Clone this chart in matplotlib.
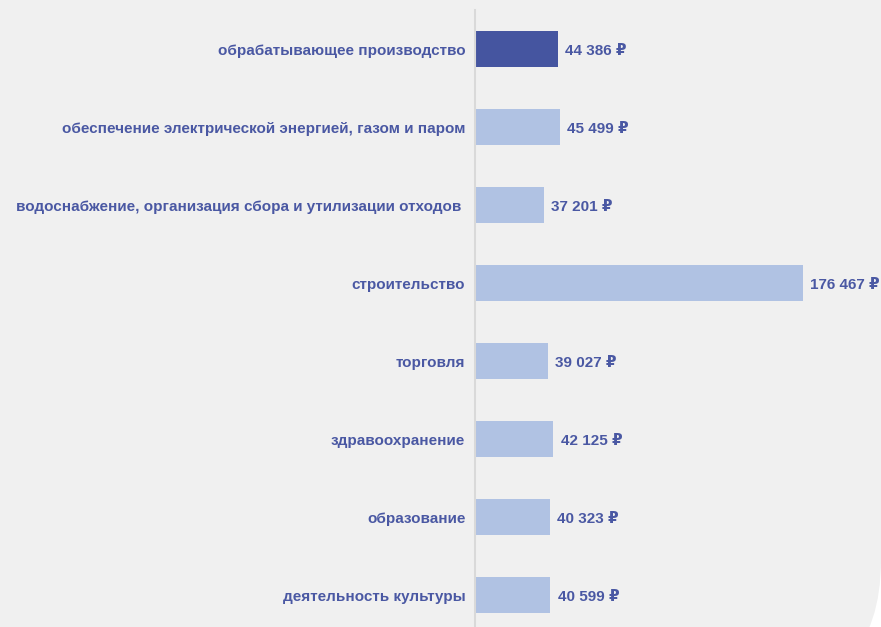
import matplotlib.pyplot as plt
from matplotlib.patches import FancyBboxPatch

categories = [
    "обрабатывающее производство",
    "обеспечение электрической энергией, газом и паром",
    "водоснабжение, организация сбора и утилизации отходов ",
    "строительство",
    "торговля",
    "здравоохранение",
    "образование",
    "деятельность культуры",
]
values = [44386, 45499, 37201, 176467, 39027, 42125, 40323, 40599]
labels = ["44 386 ₽", "45 499 ₽", "37 201 ₽", "176 467 ₽",
          "39 027 ₽", "42 125 ₽", "40 323 ₽", "40 599 ₽"]
colors = ["#4555a0"] + ["#b0c2e3"] * 7

text_color = "#4a58a3"
bg = "#f0f0f0"

plt.rcParams['font.family'] = ['Liberation Sans', 'DejaVu Sans']

W, H = 881, 627
fig = plt.figure(figsize=(W / 100, H / 100), dpi=100)
fig.patch.set_facecolor("white")
# grey card with a large rounded corner at bottom right
r = 134
card = FancyBboxPatch((-200, -67), W + 200, H + 267,
                      boxstyle="round,pad=0,rounding_size=%d" % r,
                      transform=None, facecolor=bg, edgecolor="none", zorder=-10)
fig.patches.append(card)

ax = fig.add_axes([475 / W, 0, 406 / W, 617 / H])
ax.set_facecolor("none")
y = list(range(len(categories)))
ax.barh(y, values, height=0.46, color=colors)
ax.set_xlim(0, 218400)
ax.set_ylim(7.41, -0.5)

for yi, v, lab in zip(y, values, labels):
    ax.text(v + 3900, yi, lab, va="center_baseline", ha="left", color=text_color,
            fontsize=11, fontweight="bold")

ax.set_yticks(y)
ax.set_yticklabels(categories, color=text_color, fontsize=11, fontweight="bold")
ax.tick_params(axis="y", length=0, pad=7)
ax.set_xticks([])
for s in ["top", "right", "bottom"]:
    ax.spines[s].set_visible(False)
ax.spines["left"].set_color("#d9d9d9")
ax.spines["left"].set_linewidth(1.5)

fig.savefig("out.png", dpi=100, facecolor=fig.get_facecolor())
